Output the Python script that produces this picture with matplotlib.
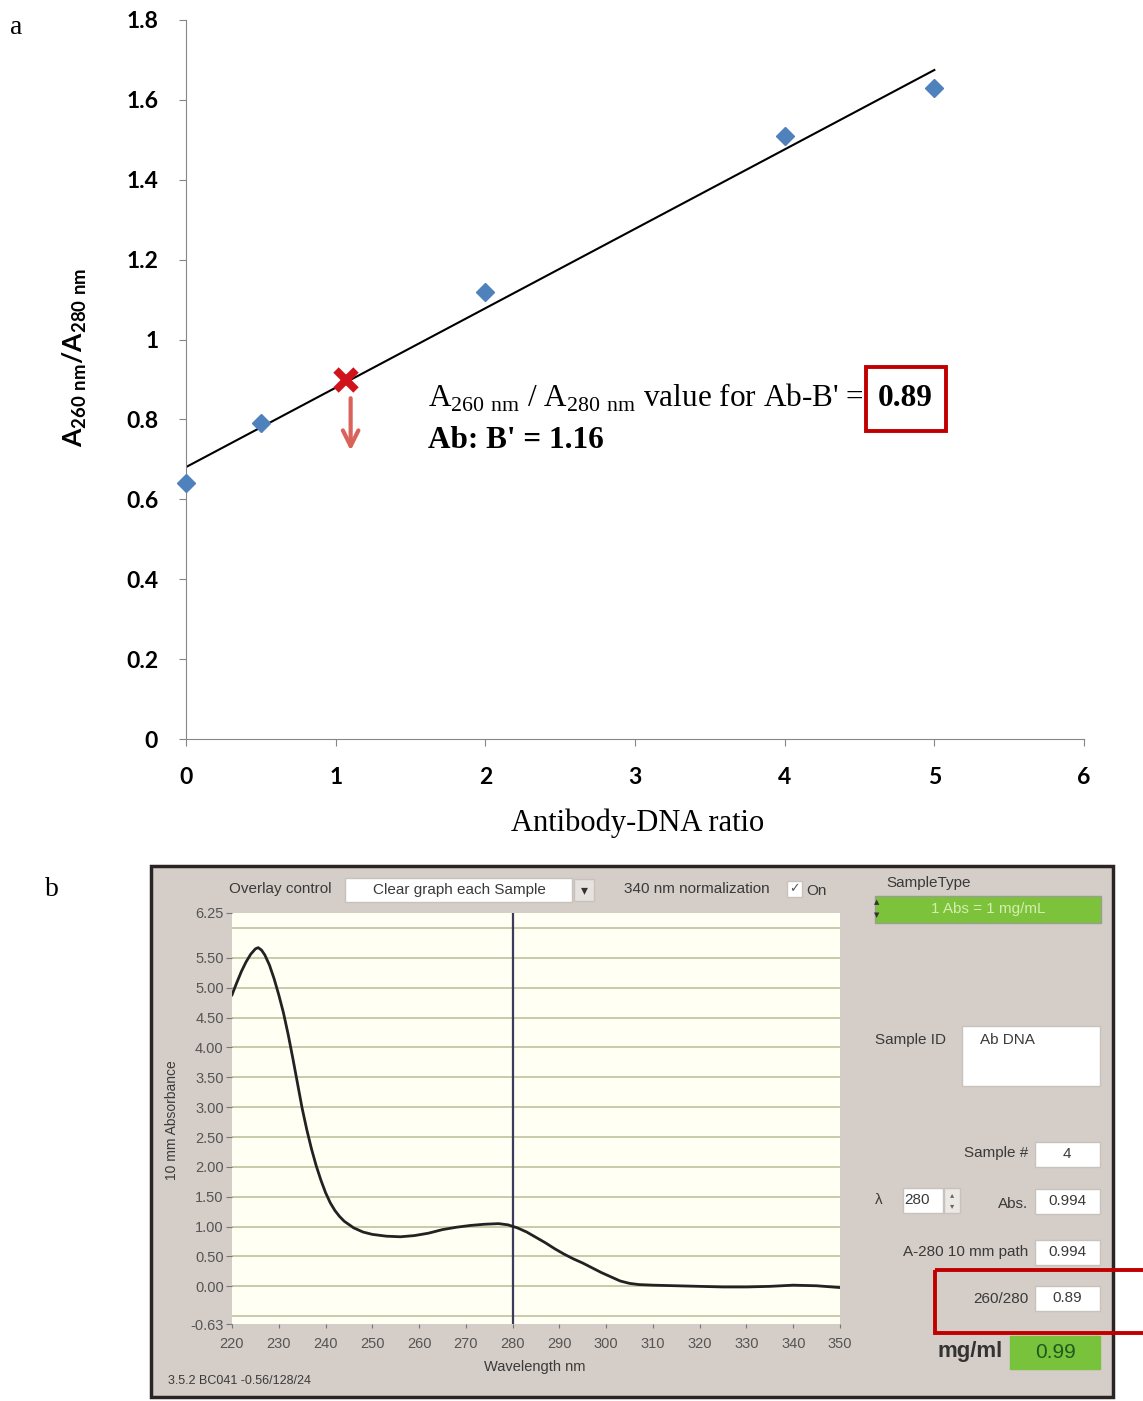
import numpy as np
import matplotlib
matplotlib.use("Agg")
import matplotlib.pyplot as plt
from matplotlib.patches import Rectangle

plt.rcParams['mathtext.fontset'] = 'custom'
plt.rcParams['mathtext.rm'] = 'Liberation Serif'
plt.rcParams['mathtext.bf'] = 'Lato:bold'

# panel a data
ratio = [0, 0.5, 2, 4, 5]
a260_a280 = [0.64, 0.79, 1.12, 1.51, 1.63]
ab_b_ratio = 1.07
ab_b_value = 0.90
x_ticks = [0, 1, 2, 3, 4, 5, 6]
y_ticks = [0, 0.2, 0.4, 0.6, 0.8, 1.0, 1.2, 1.4, 1.6, 1.8]

# panel b data (spectrum)
wavelength = [220, 221, 222, 223, 224, 225, 225.6, 226.3, 227, 228, 229, 230, 231, 232, 233,
              234, 235, 236, 237, 238, 239, 240, 241, 242, 243, 244, 246, 248, 250, 253,
              256, 259, 262, 265, 268, 271, 274, 277, 279, 281, 283, 285, 287, 289, 291,
              293, 295, 297, 299, 301, 303, 305, 307, 310, 315, 320, 325, 330, 335, 340,
              345, 350]
absorbance = [4.88, 5.08, 5.27, 5.43, 5.56, 5.65, 5.67, 5.63, 5.55, 5.38, 5.15, 4.88, 4.58, 4.22, 3.82,
              3.40, 2.98, 2.62, 2.30, 2.02, 1.78, 1.57, 1.40, 1.27, 1.17, 1.09, 0.98, 0.91, 0.87, 0.84,
              0.83, 0.85, 0.89, 0.95, 0.99, 1.02, 1.04, 1.05, 1.03, 0.98, 0.91, 0.82, 0.73, 0.63, 0.54,
              0.46, 0.39, 0.31, 0.23, 0.16, 0.09, 0.05, 0.03, 0.02, 0.01, 0.00, -0.01, -0.01, 0.00, 0.02,
              0.01, -0.02]
spec_yticks = [-0.63, 0.0, 0.5, 1.0, 1.5, 2.0, 2.5, 3.0, 3.5, 4.0, 4.5, 5.0, 5.5, 6.25]
spec_grid = [-0.5, 0.0, 0.5, 1.0, 1.5, 2.0, 2.5, 3.0, 3.5, 4.0, 4.5, 5.0, 5.5, 6.0]
spec_xticks = list(range(220, 351, 10))

W, H = 1143, 1401
fig = plt.figure(figsize=(W / 100, H / 100), dpi=100)

# full-figure pixel canvas for labels and the software window chrome
ui = fig.add_axes([0, 0, 1, 1])
ui.set_xlim(0, W)
ui.set_ylim(H, 0)
ui.axis('off')

def px_axes(l, t, r, b):
    return fig.add_axes([l / W, 1 - b / H, (r - l) / W, (b - t) / H])

# ---------------- panel a ----------------
ax1 = px_axes(186, 20, 1084, 739)
ax1.patch.set_visible(False)
gray = '#868686'
for s in ['top', 'right']:
    ax1.spines[s].set_visible(False)
for s in ['left', 'bottom']:
    ax1.spines[s].set_color(gray)
ax1.set_xlim(0, 6)
ax1.set_ylim(0, 1.8)
ax1.set_xticks(x_ticks)
ax1.set_yticks(y_ticks)
ax1.set_yticklabels([f"{v:g}" for v in y_ticks])
ax1.tick_params(direction='out', length=5, color=gray, labelsize=16.5, pad=15)
for lab in ax1.get_xticklabels() + ax1.get_yticklabels():
    lab.set_fontfamily('Lato')
    lab.set_fontweight('bold')

slope, icpt = np.polyfit(ratio, a260_a280, 1)
xf = np.array([0, max(ratio)])
ax1.plot(xf, slope * xf + icpt, color='black', lw=1.5, zorder=2)
ax1.plot(ratio, a260_a280, 'D', color='#4f81bd', ms=9.5, mec='#4f81bd', clip_on=False, zorder=3)
ax1.plot(ab_b_ratio, ab_b_value, 'x', color='#d0121b', ms=15, mew=5.5, zorder=4)
ax1.annotate('', xy=(ab_b_ratio + 0.03, 0.715), xytext=(ab_b_ratio + 0.03, 0.86),
             arrowprops=dict(arrowstyle='->', color='#d9625a', lw=3, mutation_scale=28))

ui.text(506 + 132, 823, 'Antibody-DNA ratio', ha='center', va='center',
        family='Liberation Serif', fontsize=22)
fig.text(75 / W, 1 - 357 / H, r'A$_{\mathbf{260\ nm}}$/A$_{\mathbf{280\ nm}}$',
         rotation=90, ha='center', va='center', family='Lato', fontweight='bold', fontsize=19)

ui.text(428, 398, r"A$_{\mathrm{260\ nm}}$ / A$_{\mathrm{280\ nm}}$ value for Ab-B' = ",
        ha='left', va='center', family='Liberation Serif', fontsize=22.5)
ui.text(905, 398, '0.89', ha='center', va='center', family='Liberation Serif',
        fontweight='bold', fontsize=22.5)
ui.add_patch(Rectangle((866, 367), 80, 64, fill=False, ec='#c00000', lw=2.8))
ui.text(428, 441, "Ab: B' = 1.16", ha='left', va='center', family='Liberation Serif',
        fontweight='bold', fontsize=22.5)

ui.text(10, 28, 'a', ha='left', va='center', family='Liberation Serif', fontsize=20)
ui.text(45, 890, 'b', ha='left', va='center', family='Liberation Serif', fontsize=20)

# ---------------- panel b: software window ----------------
tc = '#3a3a3a'
uf = 'Liberation Sans'
ui.add_patch(Rectangle((151, 866), 962, 531, fc='#d4cdc8', ec='#2b2424', lw=2.5))

def box(x, y, w, h, fc='white', ec='#c8c2bd'):
    ui.add_patch(Rectangle((x, y), w, h, fc=fc, ec=ec, lw=1))

def lbl(x, y, s, ha='left', size=11, **kw):
    ui.text(x, y, s, ha=ha, va='center', family=uf, fontsize=size, color=kw.pop('color', tc), **kw)

lbl(229, 889, 'Overlay control')
box(345, 878, 227, 24)
lbl(459, 890, 'Clear graph each Sample', ha='center')
box(574, 879, 20, 22, fc='#e6e2de')
ui.text(584, 890, '\u25be', ha='center', va='center', fontsize=10, color='#333')
lbl(624, 889, '340 nm normalization')
box(787, 881, 15, 16)
ui.text(794.5, 889, '\u2713', ha='center', va='center', fontsize=9, color='#555')
lbl(806, 891, 'On')

lbl(886, 883, 'SampleType')
box(875, 896, 226, 27, fc='#7cc23a', ec='#9aa090')
lbl(988, 909, '1 Abs = 1 mg/mL', ha='center', color='#d4eeb0')
ui.text(877, 902, '\u25b2', ha='center', va='center', fontsize=5, color='#333')
ui.text(877, 915, '\u25bc', ha='center', va='center', fontsize=5, color='#333')

lbl(946, 1040, 'Sample ID', ha='right')
box(962, 1026, 138, 60)
lbl(980, 1040, 'Ab DNA')

lbl(1028, 1153, 'Sample #', ha='right')
box(1035, 1142, 65, 25)
lbl(1067, 1154, '4', ha='center')

lbl(875, 1200, '\u03bb')
box(903, 1188, 40, 25)
lbl(917, 1200, '280', ha='center')
box(944, 1188, 16, 25, fc='#ece8e4')
ui.text(952, 1195, '\u25b4', ha='center', va='center', fontsize=6, color='#666')
ui.text(952, 1206, '\u25be', ha='center', va='center', fontsize=6, color='#666')
lbl(1028, 1204, 'Abs.', ha='right')
box(1035, 1189, 65, 25)
lbl(1067, 1201, '0.994', ha='center')

lbl(1028, 1252, 'A-280 10 mm path', ha='right')
box(1035, 1240, 65, 25)
lbl(1067, 1252, '0.994', ha='center')

lbl(1028, 1299, '260/280', ha='right')
box(1035, 1286, 65, 25)
lbl(1067, 1298, '0.89', ha='center')

lbl(1003, 1352, 'mg/ml', ha='right', size=16, fontweight='bold', color='#333')
box(1010, 1336, 90, 33, fc='#78c23c', ec='#78c23c')
lbl(1055, 1352, '0.99', ha='center', size=15, color='#1e5a1e')

ui.add_patch(Rectangle((935, 1270), 230, 63, fill=False, ec='#c00000', lw=2.8))

lbl(168, 1381, '3.5.2 BC041 -0.56/128/24', size=9)
lbl(535, 1367, 'Wavelength nm', ha='center', size=10.5)
ui.text(172, 1120, '10 mm Absorbance', rotation=90, ha='center', va='center',
        family=uf, fontsize=10, color=tc)

# spectrum plot
ax2 = px_axes(232, 913, 840, 1324)
ax2.set_facecolor('#fffff4')
for s in ax2.spines.values():
    s.set_visible(False)
ax2.set_xlim(220, 350)
ax2.set_ylim(-0.63, 6.25)
for g in spec_grid:
    ax2.axhline(g, color='#c6c6a4', lw=1.3, zorder=1)
ax2.axvline(280, color='#3c3c5a', lw=1.6, zorder=2)
ax2.plot(wavelength, absorbance, color='#222222', lw=2, zorder=3)
ax2.set_yticks(spec_yticks)
ax2.set_yticklabels([f"{v:.2f}" for v in spec_yticks])
ax2.set_xticks(spec_xticks)
ax2.tick_params(axis='y', direction='out', length=4, color='#777', labelsize=10.5,
                labelcolor='#555', pad=2)
ax2.tick_params(axis='x', direction='out', length=3, color='#777', labelsize=10.5,
                labelcolor='#555', pad=6)
for lab in ax2.get_xticklabels() + ax2.get_yticklabels():
    lab.set_fontfamily(uf)

fig.savefig('out.png', dpi=100)
